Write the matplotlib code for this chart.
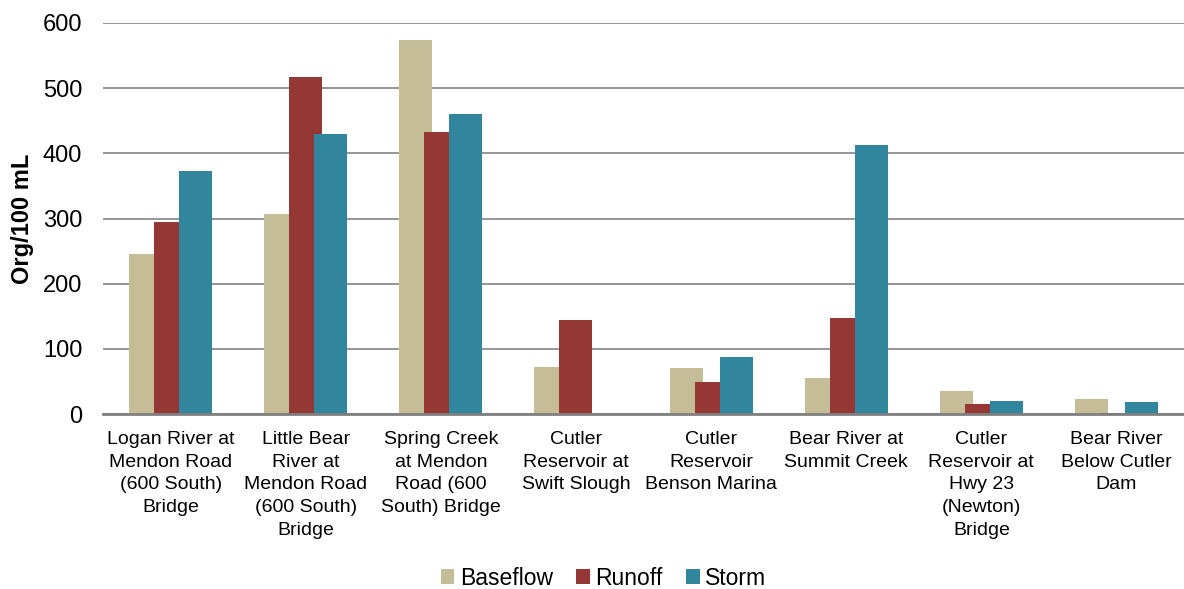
import matplotlib.pyplot as plt
import numpy as np

plt.rcParams['font.family'] = ['Liberation Sans', 'DejaVu Sans']

sites = ["Logan River at\nMendon Road\n(600 South)\nBridge",
         "Little Bear\nRiver at\nMendon Road\n(600 South)\nBridge",
         "Spring Creek\nat Mendon\nRoad (600\nSouth) Bridge",
         "Cutler\nReservoir at\nSwift Slough",
         "Cutler\nReservoir\nBenson Marina",
         "Bear River at\nSummit Creek",
         "Cutler\nReservoir at\nHwy 23\n(Newton)\nBridge",
         "Bear River\nBelow Cutler\nDam"]
baseflow = [245, 307, 574, 72, 71, 55, 35, 23]
runoff = [294, 517, 433, 144, 49, 147, 15, 2]
storm = [373, 430, 460, 0, 88, 413, 20, 18]

series = [("Baseflow", baseflow, "#C4BD97"),
          ("Runoff", runoff, "#953735"),
          ("Storm", storm, "#31859C")]

fig = plt.figure(figsize=(11.84, 5.89), dpi=100)
ax = fig.add_axes([0.087, 0.297, 0.913, 0.664])

x = np.arange(len(sites))
step = 0.185
width = 0.244
for i, (name, vals, color) in enumerate(series):
  ax.bar(x + (i - 1) * step, vals, width, color=color, label=name, zorder=2 + i)

ax.set_xlim(-0.5, len(sites) - 0.5)
ax.set_ylim(0, 600)
ax.set_yticks(range(0, 601, 100))
ax.yaxis.grid(True, color="#8c8c8c", linewidth=1.3, zorder=0)
ax.set_axisbelow(True)
for s in ["top", "right", "left"]:
  ax.spines[s].set_visible(False)
ax.spines["bottom"].set_color("#808080")
ax.spines["bottom"].set_linewidth(2)
ax.spines["bottom"].set_zorder(10)
ax.tick_params(axis="y", length=0, pad=15, labelsize=17)
ax.tick_params(axis="x", length=0, pad=12, labelsize=14)
ax.set_xticks(x)
ax.set_xticklabels(sites, linespacing=1.45)
ax.set_ylabel("Org/100 mL", fontsize=17, fontweight="bold", labelpad=6)

ax.legend(loc="center", bbox_to_anchor=(0.463, -0.42), ncol=3, frameon=False,
          fontsize=16.5, handlelength=0.6, handleheight=0.6, handletextpad=0.25,
          columnspacing=1.0)

fig.savefig("out.png", dpi=100)
